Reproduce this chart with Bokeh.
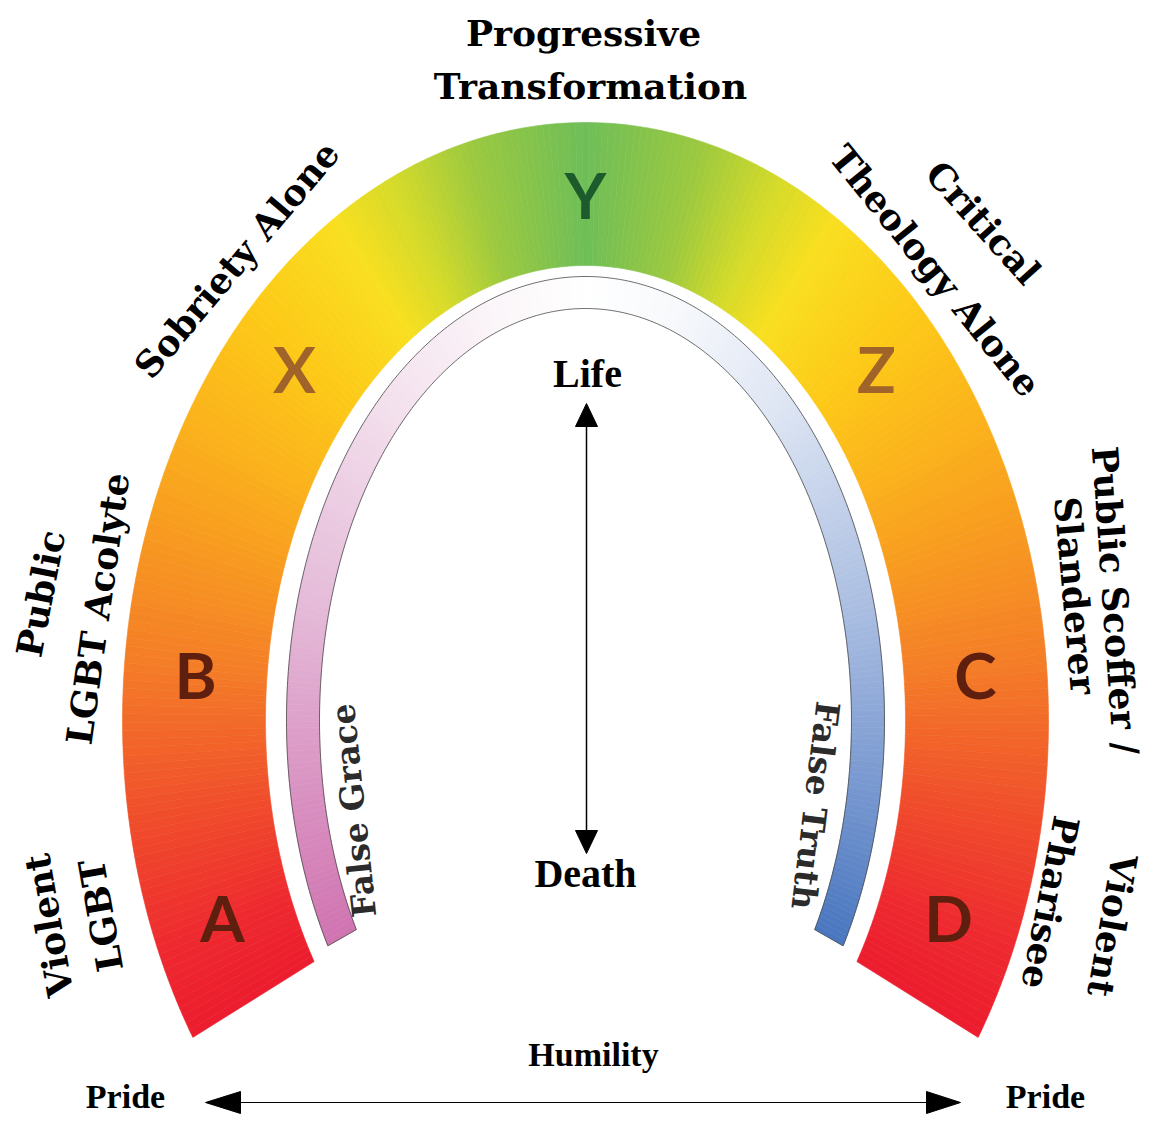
import numpy as np
from bokeh.plotting import figure
from bokeh.models import Range1d
from bokeh.embed import file_html
from bokeh.resources import INLINE
from bokeh.core.properties import value

# ------------------------------------------------------------------ data
stage_letters = ["A", "B", "X", "Y", "Z", "C", "D"]
stage_lines = [
    ["Violent", "LGBT"],
    ["Public", "LGBT Acolyte"],
    ["Sobriety Alone"],
    ["Progressive", "Transformation"],
    ["Critical", "Theology Alone"],
    ["Public Scoffer /", "Slanderer"],
    ["Violent", "Pharisee"],
]
counterfeits = ["False Grace", "False Truth"]
axis_words = ["Life", "Death"]
base_words = ["Pride", "Humility", "Pride"]

# colour ramps (0 = end of arch, 1 = top of arch)
arch_stop_pos = [0.0, 0.08, 0.19, 0.31, 0.42, 0.52, 0.62, 0.73, 0.80, 0.88, 1.0]
arch_stop_col = ["#EC1C2E", "#EE2A2F", "#F0502B", "#F47D27", "#F89B20", "#FBB41B",
                 "#FDC917", "#F9DF1F", "#D3DA2A", "#9CC93F", "#6EBE58"]
band_stop_pos = [0.0, 0.15, 0.345, 0.61, 0.84, 1.0]
grace_col = ["#FFFFFF", "#FBF6F9", "#F4E2EE", "#E5BCD9", "#D88FC0", "#D073B0"]
truth_col = ["#FFFFFF", "#F7F9FC", "#E0E7F4", "#ADC0E2", "#7394CE", "#4876BF"]

# ------------------------------------------------------------------ layout
H = 1132
CX, CY = 585, H - 720
ARCH_OUT, ARCH_IN = (463, 598), (320, 455)
BAND_OUT, BAND_IN = (299, 444), (266, 412)
ARCH_END, BAND_END = 32.0, 30.5
letter_phi = [202, 175, 138, 90, 42, 5, -22]
letter_col = ["#5E1F0F", "#5E1F0F", "#A0642A", "#1D5B2C", "#A0642A", "#5E1F0F", "#5E1F0F"]
# label line centres (pixel coords) and rotations (deg)
label_xy = [
    [(48, 925, 100), (100, 915, 100)],
    [(40, 593, 79), (97, 608, 82)],
    [(236, 259, 50)],
    [(583, 32, 0), (590, 85, 0)],
    [(983, 222, -48), (935, 270, -51)],
    [(1115, 600, -86), (1075, 595, -85)],
    [(1112, 925, -100), (1050, 902, -101)],
]
counter_xy = [(353, 810, 96), (815, 805, -97)]
ARROW_Y = 1102
PRIDE_Y = 1096
HUMILITY_Y = 1054


def hex2rgb(h):
    return np.array([int(h[i:i + 2], 16) for i in (1, 3, 5)], float)


def ramp(t, pos, cols):
    rgb = np.array([hex2rgb(c) for c in cols])
    out = [np.interp(t, pos, rgb[:, k]) for k in range(3)]
    return "#%02x%02x%02x" % tuple(int(round(v)) for v in out)


def ell(ab, phi):
    r = np.radians(phi)
    return CX + ab[0] * np.cos(r), CY + ab[1] * np.sin(r)


p = figure(width=1149, height=1116, x_range=Range1d(0, 1149), y_range=Range1d(16, 1132),
           output_backend="svg", toolbar_location=None, min_border=0)
p.axis.visible = False
p.grid.visible = False
p.outline_line_color = None
p.background_fill_color = "white"

# ---- main arch
phis = np.linspace(180 + ARCH_END, -ARCH_END, 300)
xs, ys, cs = [], [], []
for a0, a1 in zip(phis[:-1], phis[1:]):
    ox0, oy0 = ell(ARCH_OUT, a0)
    ox1, oy1 = ell(ARCH_OUT, a1)
    ix0, iy0 = ell(ARCH_IN, a0)
    ix1, iy1 = ell(ARCH_IN, a1)
    xs.append([ox0, ox1, ix1, ix0])
    ys.append([oy0, oy1, iy1, iy0])
    mid = 0.5 * (a0 + a1)
    t = 1 - abs(mid - 90) / (90 + ARCH_END)
    cs.append(ramp(t, arch_stop_pos, arch_stop_col))
p.patches(xs, ys, fill_color=cs, line_color=cs, line_width=0.6)

# ---- thin counterfeit bands
for lo, hi, cols in [(90, 180 + BAND_END, grace_col), (-BAND_END, 90, truth_col)]:
    ph = np.linspace(lo, hi, 160)
    xs, ys, cs = [], [], []
    for a0, a1 in zip(ph[:-1], ph[1:]):
        ox0, oy0 = ell(BAND_OUT, a0)
        ox1, oy1 = ell(BAND_OUT, a1)
        ix0, iy0 = ell(BAND_IN, a0)
        ix1, iy1 = ell(BAND_IN, a1)
        xs.append([ox0, ox1, ix1, ix0])
        ys.append([oy0, oy1, iy1, iy0])
        t = abs(0.5 * (a0 + a1) - 90) / (90 + BAND_END)
        cs.append(ramp(t, band_stop_pos, cols))
    p.patches(xs, ys, fill_color=cs, line_color=cs, line_width=0.6)

ph = np.linspace(-BAND_END, 180 + BAND_END, 400)
ox, oy = ell(BAND_OUT, ph)
ix, iy = ell(BAND_IN, ph)
p.line(ox, oy, line_color="#4a4a4a", line_width=0.8)
p.line(ix, iy, line_color="#4a4a4a", line_width=0.8)
for e in (-BAND_END, 180 + BAND_END):
    a, b = ell(BAND_OUT, e)
    c, d = ell(BAND_IN, e)
    p.line([a, c], [b, d], line_color="#4a4a4a", line_width=0.8)

# ---- letters
lx, ly = ell(((ARCH_OUT[0] + ARCH_IN[0]) / 2, (ARCH_OUT[1] + ARCH_IN[1]) / 2), np.array(letter_phi))
p.text(lx, ly, text=stage_letters, text_color=letter_col, text_font=value("Lato"),
       text_font_style="bold", text_font_size="64px", text_align="center", text_baseline="middle")

# ---- stage labels
tx, ty, tt, ta = [], [], [], []
for lines, pos in zip(stage_lines, label_xy):
    for s, (x, y, ang) in zip(lines, pos):
        tx.append(x); ty.append(H - y); tt.append(s); ta.append(np.radians(ang))
p.text(tx, ty, text=tt, angle=ta, text_color="black", text_font=value("DejaVu Serif"),
       text_font_style="bold", text_font_size="36px", text_align="center", text_baseline="middle")

# ---- counterfeit labels
p.text([c[0] for c in counter_xy], [H - c[1] for c in counter_xy], text=counterfeits,
       angle=[np.radians(c[2]) for c in counter_xy], text_color="#2b2b2b",
       text_font=value("DejaVu Serif"), text_font_style="bold", text_font_size="33px",
       text_align="center", text_baseline="middle")

# ---- Life / Death axis
AX = 586
p.segment([AX], [H - 420], [AX], [H - 836], line_color="black", line_width=1.5)
p.patches([[AX, AX - 11, AX + 11], [AX, AX - 11, AX + 11]],
          [[H - 403, H - 426, H - 426], [H - 853, H - 830, H - 830]], fill_color="black", line_color="black")
p.text([587, 585], [H - 373, H - 873], text=axis_words, text_color="black",
       text_font=value("Liberation Serif"), text_font_style="bold", text_font_size="40px",
       text_align="center", text_baseline="middle")

# ---- Pride / Humility baseline
p.segment([235], [H - ARROW_Y], [932], [H - ARROW_Y], line_color="black", line_width=1.2)
p.patches([[205, 240, 240], [960, 926, 926]],
          [[H - ARROW_Y, H - ARROW_Y + 11, H - ARROW_Y - 11], [H - ARROW_Y, H - ARROW_Y + 11, H - ARROW_Y - 11]],
          fill_color="black", line_color="black")
p.text([125, 593, 1045], [H - PRIDE_Y, H - HUMILITY_Y, H - PRIDE_Y], text=base_words, text_color="black",
       text_font=value("Liberation Serif"), text_font_style="bold", text_font_size="34px",
       text_align="center", text_baseline="middle")

open("out.html", "w").write(file_html(p, INLINE))
